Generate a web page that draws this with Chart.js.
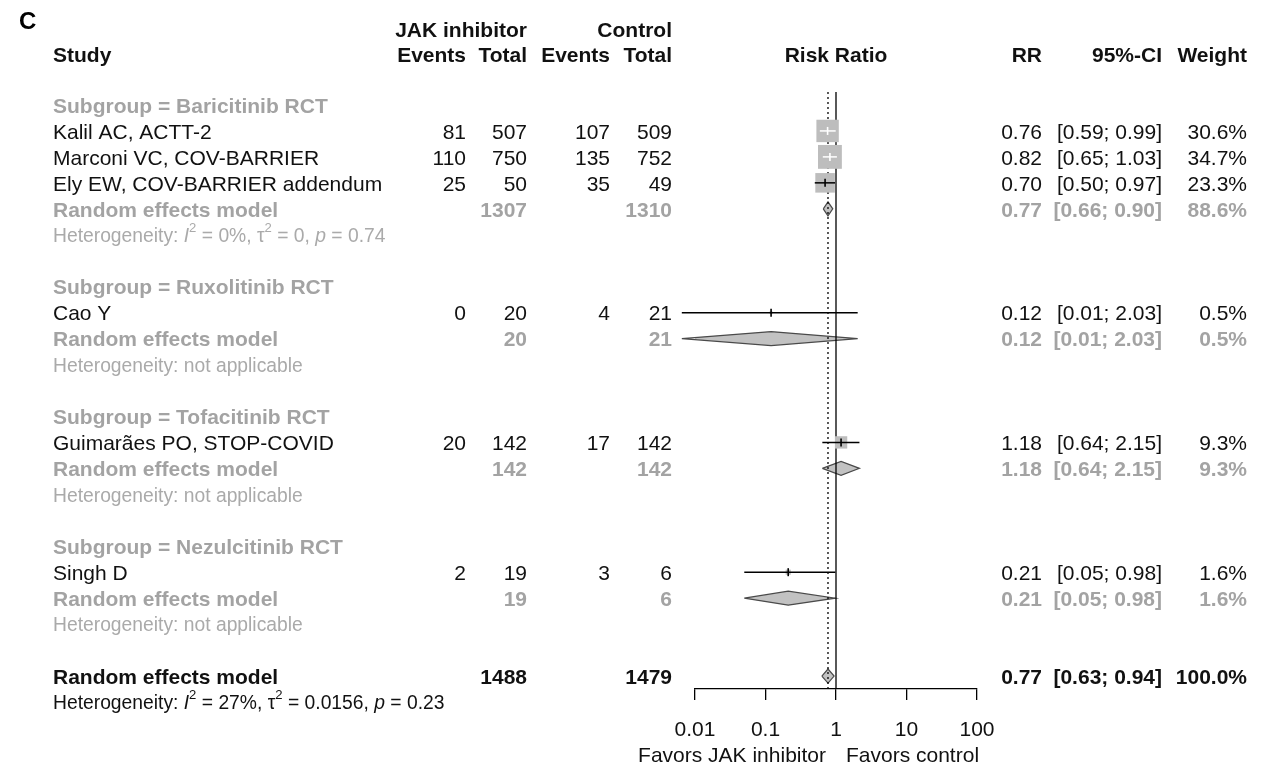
<!DOCTYPE html>
<html>
<head>
<meta charset="UTF-8">
<title>Forest plot - JAK inhibitors, risk ratio</title>
<script src="https://cdn.jsdelivr.net/npm/chart.js"></script>
<style>
  body { margin: 0; background: #fff; }
</style>
</head>
<body>
<canvas id="forest" width="1261" height="769"></canvas>
<script>
// ---- data ----
const studyNames = ['Kalil AC, ACTT-2', 'Marconi VC, COV-BARRIER', 'Ely EW, COV-BARRIER addendum',
                    'Cao Y', 'Guimarães PO, STOP-COVID', 'Singh D'];
const studyRows = [1, 2, 3, 8, 13, 18];
const eventsJak = [81, 110, 25, 0, 20, 2];
const totalJak = [507, 750, 50, 20, 142, 19];
const eventsCtrl = [107, 135, 35, 4, 17, 3];
const totalCtrl = [509, 752, 49, 21, 142, 6];
const studyRR = [0.76, 0.82, 0.70, 0.12, 1.18, 0.21];
const studyLow = [0.59, 0.65, 0.50, 0.0065, 0.64, 0.05];
const studyHigh = [0.99, 1.03, 0.97, 2.03, 2.15, 0.98];
const studyWeight = [30.6, 34.7, 23.3, 0.5, 9.3, 1.6];

const subgroupNames = ['Baricitinib RCT', 'Ruxolitinib RCT', 'Tofacitinib RCT', 'Nezulcitinib RCT'];
const subgroupRows = [0, 7, 12, 17];
const modelRows = [4, 9, 14, 19];
const hetRows = [5, 10, 15, 20];
const subTotalJak = [1307, 20, 142, 19];
const subTotalCtrl = [1310, 21, 142, 6];
const subRR = [0.77, 0.12, 1.18, 0.21];
const subLow = [0.66, 0.0065, 0.64, 0.05];
const subHigh = [0.90, 2.03, 2.15, 0.98];
const subWeight = [88.6, 0.5, 9.3, 1.6];
const subI2 = [0, null, null, null];
const subTau2 = [0, null, null, null];
const subP = [0.74, null, null, null];

const overallRow = 22;
const overallHetRow = 23;
const overallTotalJak = 1488;
const overallTotalCtrl = 1479;
const overallRR = 0.77;
const overallLow = 0.63;
const overallHigh = 0.94;
const overallWeight = 100.0;
const overallI2 = 27;
const overallTau2 = 0.0156;
const overallP = 0.23;

const axisTicks = [0.01, 0.1, 1, 10, 100];

// ---- styling ----
const FONT = '"Liberation Sans", Arial, sans-serif';
const BLACK = '#111';
const GREY = '#a3a3a3';
const HET_GREY = '#aaaaaa';
const COL = { study: 53, evJ: 466, totJ: 527, evC: 610, totC: 672, rr: 1042, ci: 1162, w: 1247 };
const TEXT_DY = 2;        // nudge text baseline down a touch
const SQUARE_K = 4.05;    // square side = K * sqrt(weight)
const DIAMOND_H = 0.27;   // half height in rows

function squareSide(i) { return SQUARE_K * Math.sqrt(studyWeight[i]); }
function ciInside(chart, i) {
  const x = chart.scales.x;
  const w = x.getPixelForValue(studyHigh[i]) - x.getPixelForValue(studyLow[i]);
  return w < squareSide(i);
}
function diamond(est, lo, hi, row) {
  return [{x: lo, y: row}, {x: est, y: row - DIAMOND_H}, {x: hi, y: row},
          {x: est, y: row + DIAMOND_H}, {x: lo, y: row}];
}

const datasets = [];

// pooled diamonds
subRR.forEach((rr, g) => {
  datasets.push({
    data: diamond(rr, subLow[g], subHigh[g], modelRows[g]),
    borderColor: '#4a4a4a', borderWidth: 1.2, backgroundColor: '#c2c2c2',
    fill: 'shape', pointRadius: 0, tension: 0, order: 6
  });
});
datasets.push({
  data: diamond(overallRR, overallLow, overallHigh, overallRow),
  borderColor: '#4a4a4a', borderWidth: 1.2, backgroundColor: '#c2c2c2',
  fill: 'shape', pointRadius: 0, tension: 0, order: 6
});

// reference lines: no effect (solid) and overall estimate (dotted)
datasets.push({
  data: [{x: 1, y: -0.5}, {x: 1, y: 22.5}],
  borderColor: '#000', borderWidth: 1.3, pointRadius: 0, order: 5
});
datasets.push({
  data: [{x: overallRR, y: -0.5}, {x: overallRR, y: 22.5}],
  borderColor: '#000', borderWidth: 1.3, borderDash: [2, 3], pointRadius: 0, order: 5
});

// weight squares
datasets.push({
  data: studyRR.map((v, i) => ({x: v, y: studyRows[i]})),
  showLine: false, pointStyle: 'rect',
  pointRadius: ctx => squareSide(ctx.dataIndex) / (2 * Math.SQRT1_2),
  pointBackgroundColor: '#bdbdbd', pointBorderWidth: 0, order: 4
});

// confidence intervals
studyRR.forEach((v, i) => {
  datasets.push({
    data: [{x: studyLow[i], y: studyRows[i]}, {x: studyHigh[i], y: studyRows[i]}],
    borderColor: ctx => ciInside(ctx.chart, i) ? '#fff' : '#000',
    borderWidth: 1.5, pointRadius: 0, order: 3
  });
});

// point estimate ticks
datasets.push({
  data: studyRR.map((v, i) => ({x: v, y: studyRows[i]})),
  showLine: false, pointStyle: 'line', pointRotation: 90, pointRadius: 4,
  pointBorderWidth: 1.6,
  pointBorderColor: ctx => ciInside(ctx.chart, ctx.dataIndex) ? '#fff' : '#000',
  order: 2
});

datasets.forEach(d => { d.clip = false; });

// ---- text columns ----
function txt(ctx, s, x, y, align, font, color) {
  ctx.font = font;
  ctx.textAlign = align;
  ctx.fillStyle = color;
  ctx.fillText(s, x, y + TEXT_DY);
}
function rich(ctx, parts, x, y, size, color) {
  let cx = x;
  ctx.textAlign = 'left';
  ctx.fillStyle = color;
  parts.forEach(p => {
    const fs = p.sup ? size * 0.68 : size;
    ctx.font = (p.it ? 'italic ' : '') + fs + 'px ' + FONT;
    ctx.fillText(p.t, cx, (p.sup ? y - size * 0.42 : y) + TEXT_DY);
    cx += ctx.measureText(p.t).width;
  });
}
function hetParts(i2, tau2, p) {
  return [{t: 'Heterogeneity: '}, {t: 'I', it: true}, {t: '2', sup: true},
          {t: ' = ' + i2 + '%, \u03c4'}, {t: '2', sup: true}, {t: ' = ' + tau2 + ', '},
          {t: 'p', it: true}, {t: ' = ' + p}];
}
function ciText(lo, hi) { return '[' + lo.toFixed(2) + '; ' + hi.toFixed(2) + ']'; }

const textPlugin = {
  id: 'forestText',
  afterDraw(chart) {
    const ctx = chart.ctx;
    const ys = chart.scales.y;
    const Y = r => ys.getPixelForValue(r);
    const reg = '21px ' + FONT;
    const bold = 'bold 21px ' + FONT;
    ctx.save();
    ctx.textBaseline = 'middle';

    txt(ctx, 'C', 19, 20, 'left', 'bold 24px ' + FONT, '#000');

    // header
    txt(ctx, 'JAK inhibitor', COL.totJ, Y(-2.92), 'right', bold, BLACK);
    txt(ctx, 'Control', COL.totC, Y(-2.92), 'right', bold, BLACK);
    const hy = Y(-1.95);
    txt(ctx, 'Study', COL.study, hy, 'left', bold, BLACK);
    txt(ctx, 'Events', COL.evJ, hy, 'right', bold, BLACK);
    txt(ctx, 'Total', COL.totJ, hy, 'right', bold, BLACK);
    txt(ctx, 'Events', COL.evC, hy, 'right', bold, BLACK);
    txt(ctx, 'Total', COL.totC, hy, 'right', bold, BLACK);
    txt(ctx, 'Risk Ratio', chart.scales.x.getPixelForValue(1), hy, 'center', bold, BLACK);
    txt(ctx, 'RR', COL.rr, hy, 'right', bold, BLACK);
    txt(ctx, '95%-CI', COL.ci, hy, 'right', bold, BLACK);
    txt(ctx, 'Weight', COL.w, hy, 'right', bold, BLACK);

    // subgroups
    subgroupNames.forEach((n, g) => {
      txt(ctx, 'Subgroup = ' + n, COL.study, Y(subgroupRows[g]), 'left', bold, GREY);
      const my = Y(modelRows[g]);
      txt(ctx, 'Random effects model', COL.study, my, 'left', bold, GREY);
      txt(ctx, String(subTotalJak[g]), COL.totJ, my, 'right', bold, GREY);
      txt(ctx, String(subTotalCtrl[g]), COL.totC, my, 'right', bold, GREY);
      txt(ctx, subRR[g].toFixed(2), COL.rr, my, 'right', bold, GREY);
      txt(ctx, ciText(subLow[g], subHigh[g]), COL.ci, my, 'right', bold, GREY);
      txt(ctx, subWeight[g].toFixed(1) + '%', COL.w, my, 'right', bold, GREY);
      if (subI2[g] === null) {
        txt(ctx, 'Heterogeneity: not applicable', COL.study, Y(hetRows[g]), 'left', '19.3px ' + FONT, HET_GREY);
      } else {
        rich(ctx, hetParts(subI2[g], subTau2[g], subP[g]), COL.study, Y(hetRows[g]), 19.3, HET_GREY);
      }
    });

    // studies
    studyNames.forEach((n, i) => {
      const y = Y(studyRows[i]);
      txt(ctx, n, COL.study, y, 'left', reg, BLACK);
      txt(ctx, String(eventsJak[i]), COL.evJ, y, 'right', reg, BLACK);
      txt(ctx, String(totalJak[i]), COL.totJ, y, 'right', reg, BLACK);
      txt(ctx, String(eventsCtrl[i]), COL.evC, y, 'right', reg, BLACK);
      txt(ctx, String(totalCtrl[i]), COL.totC, y, 'right', reg, BLACK);
      txt(ctx, studyRR[i].toFixed(2), COL.rr, y, 'right', reg, BLACK);
      txt(ctx, ciText(studyLow[i], studyHigh[i]), COL.ci, y, 'right', reg, BLACK);
      txt(ctx, studyWeight[i].toFixed(1) + '%', COL.w, y, 'right', reg, BLACK);
    });

    // overall
    const oy = Y(overallRow);
    txt(ctx, 'Random effects model', COL.study, oy, 'left', bold, BLACK);
    txt(ctx, String(overallTotalJak), COL.totJ, oy, 'right', bold, BLACK);
    txt(ctx, String(overallTotalCtrl), COL.totC, oy, 'right', bold, BLACK);
    txt(ctx, overallRR.toFixed(2), COL.rr, oy, 'right', bold, BLACK);
    txt(ctx, ciText(overallLow, overallHigh), COL.ci, oy, 'right', bold, BLACK);
    txt(ctx, overallWeight.toFixed(1) + '%', COL.w, oy, 'right', bold, BLACK);
    rich(ctx, hetParts(overallI2, overallTau2, overallP), COL.study, Y(overallHetRow), 19.3, BLACK);

    // favours labels under the axis
    const fx = chart.scales.x.getPixelForValue(1);
    txt(ctx, 'Favors JAK inhibitor', fx - 10, 754, 'right', reg, BLACK);
    txt(ctx, 'Favors control', fx + 10, 754, 'left', reg, BLACK);
    ctx.restore();
  }
};

new Chart(document.getElementById('forest'), {
  type: 'line',
  data: { datasets: datasets },
  plugins: [textPlugin],
  options: {
    responsive: false,
    animation: false,
    layout: { padding: { left: 695, right: 284, top: 92, bottom: 0 } },
    plugins: { legend: { display: false }, tooltip: { enabled: false } },
    scales: {
      x: {
        type: 'logarithmic',
        min: 0.01,
        max: 100,
        position: 'bottom',
        border: { display: true, color: '#000', width: 1.3 },
        grid: { drawOnChartArea: false, drawTicks: true, tickLength: 11, color: '#000', lineWidth: 1.3 },
        ticks: {
          autoSkip: false, maxRotation: 0, padding: 18, color: BLACK,
          font: { family: FONT, size: 21 },
          callback: v => String(v)
        },
        afterBuildTicks: s => { s.ticks = axisTicks.map(v => ({ value: v })); },
        afterFit: s => { s.height = 80; }
      },
      y: {
        type: 'linear',
        min: -0.5,
        max: 22.5,
        reverse: true,
        display: false
      }
    }
  }
});
</script>
</body>
</html>
